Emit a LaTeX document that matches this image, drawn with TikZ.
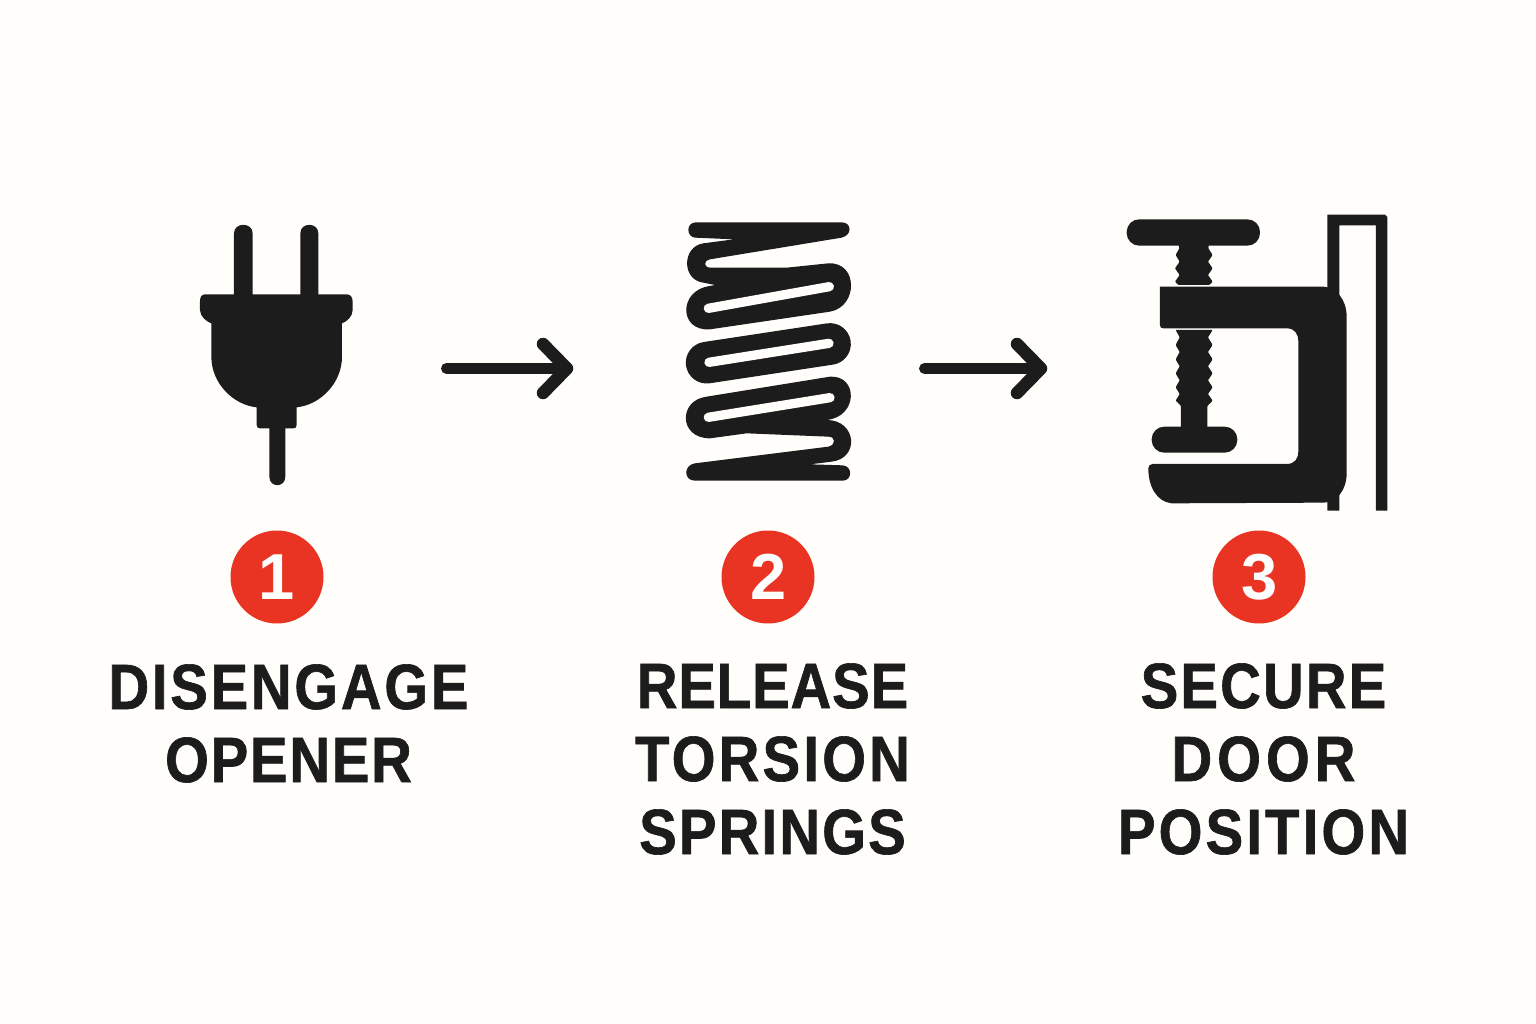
\documentclass[tikz,border=0pt]{standalone}
\usepackage{fontspec}
\setmainfont{Liberation Sans}
\newfontfamily\lblfont{Liberation Sans}[BoldFeatures={FakeStretch=0.88,FakeBold=1}]
\newfontfamily\numfont{Liberation Sans}
\newcommand\ltr[2]{{\addfontfeature{LetterSpace=#1}#2}}
\definecolor{pagebg}{HTML}{FFFEFA}
\definecolor{ink}{HTML}{1C1C1C}
\definecolor{badgered}{HTML}{EA3423}
\tikzset{
  zoomA/.style={x=.33333pt,y=-.33333pt},
  stepline/.style={ink,line width=11pt,line cap=round,line join=round},
  stephead/.style={ink,line width=12.5pt,line cap=round,line join=round},
  badge/.style={circle,fill=badgered,minimum size=93pt,inner sep=0pt,text=white,font=\numfont\bfseries\fontsize{65}{65}\selectfont},
  lbl/.style={text=ink,font=\lblfont\bfseries\fontsize{64}{73}\selectfont,align=center,inner sep=0pt,anchor=base},
}
\begin{document}
\begin{tikzpicture}[x=1pt,y=-1pt]
\useasboundingbox (0,0) rectangle (1536,1024);
\fill[pagebg] (0,0) rectangle (1536,1024);
% plug
\begin{scope}[zoomA,shift={(540,630)}]
\fill[ink] (361,70) .. controls (361,36) and (415,36) .. (415,70) -- (415,260) -- (361,260) -- cycle;
\fill[ink] (162,70) .. controls (162,36) and (218,36) .. (218,70) -- (218,260) -- (162,260) -- cycle;
\fill[ink] (75,253) -- (500,253) .. controls (512,253) and (518,262) .. (518,275) -- (518,300)
  .. controls (518,320) and (500,335) .. (486,340) -- (486,440)
  .. controls (486,520) and (420,585) .. (350,592) -- (350,645) .. controls (350,652) and (346,655) .. (340,655)
  -- (316,655) -- (316,800) .. controls (316,834) and (268,834) .. (268,800) -- (268,655)
  -- (240,655) .. controls (234,655) and (230,652) .. (230,645) -- (230,592)
  .. controls (160,585) and (94,520) .. (94,440) -- (94,340)
  .. controls (80,335) and (60,320) .. (60,300) -- (60,275) .. controls (60,262) and (64,253) .. (75,253) -- cycle;
\end{scope}
% spring
\begin{scope}[zoomA,shift={(1980,600)}]
\fill[ink] (108,67) -- (545,67) .. controls (575,67) and (578,105) .. (545,113)
  -- (150,178) .. controls (130,182) and (130,203) .. (152,203) -- (380,203) -- (505,190)
  .. controls (595,185) and (595,320) .. (510,335) -- (150,388)
  .. controls (55,395) and (55,270) .. (150,258) -- (165,255) -- (130,248)
  .. controls (65,240) and (65,140) .. (130,130) -- (222,118) -- (105,113)
  .. controls (78,110) and (78,67) .. (108,67) -- cycle;
\draw[pagebg,line width=9.3pt,line cap=round] (145,325) -- (508,260);
\draw[ink,line width=41.7pt,line cap=round] (140,488) -- (510,432);
\draw[pagebg,line width=9.3pt,line cap=round] (147,487) -- (507,430);
\fill[ink] (510,530) .. controls (595,525) and (595,650) .. (500,660)
  .. controls (590,660) and (600,775) .. (515,785) -- (450,793) -- (548,796)
  .. controls (578,798) and (578,842) .. (548,842) -- (105,842)
  .. controls (70,842) and (70,795) .. (105,790) -- (505,740)
  .. controls (528,735) and (528,710) .. (505,710) -- (260,700) -- (150,715)
  .. controls (55,715) and (55,600) .. (140,590) -- cycle;
\draw[pagebg,line width=9.3pt,line cap=round] (145,652) -- (510,593);
\end{scope}
% clamp
\begin{scope}[zoomA,shift={(3330,600)}]
\fill[ink,rounded corners=12.6pt] (50,58) rectangle (450,137);
\fill[ink,rounded corners=.8pt] (205,130) -- (297,130) -- (295,145) -- (308,165) -- (294,185) -- (308,205) -- (294,225) -- (308,245) -- (298,255) -- (205,255) -- (195,245) -- (209,225) -- (195,205) -- (209,185) -- (197,165) -- (208,145) -- cycle;
\fill[ink,rounded corners=.8pt] (197,390) -- (308,390) -- (294,412) -- (308,435) -- (294,456) -- (308,478) -- (294,499) -- (308,520) -- (294,541) -- (308,562) -- (294,582) -- (308,602) -- (292,618) -- (292,690) -- (213,690) -- (213,618) -- (197,602) -- (209,582) -- (197,562) -- (209,541) -- (197,520) -- (209,499) -- (197,478) -- (209,456) -- (197,435) -- (209,412) -- cycle;
\fill[ink,rounded corners=12.6pt] (125,680) rectangle (382,758);
\fill[ink] (150,260) -- (640,260) .. controls (680,262) and (710,300) .. (710,350) -- (710,820)
  .. controls (710,870) and (680,908) .. (640,908) -- (185,910) .. controls (140,905) and (115,860) .. (115,805)
  .. controls (115,797) and (120,792) .. (128,792) -- (530,792) .. controls (555,792) and (565,775) .. (565,755)
  -- (565,425) .. controls (565,402) and (555,385) .. (530,385) -- (160,385) .. controls (153,385) and (150,382) .. (150,375) -- cycle;
\fill[ink] (652,932) -- (652,44) -- (825,44) -- (832,51) -- (832,932) -- (798,932) -- (798,76) -- (688,76) -- (688,932) -- cycle;
\end{scope}
% arrows
\coordinate (a1s) at (446.5,368.5); \coordinate (a1e) at (567,368.5);
\coordinate (a1u) at (543,344); \coordinate (a1d) at (543,393);
\coordinate (a2s) at (924.5,368.5); \coordinate (a2e) at (1041,368.5);
\coordinate (a2u) at (1017,344); \coordinate (a2d) at (1017,393);
\draw[stepline] (a1s) -- (a1e);
\draw[stephead] (a1u) -- (a1e) -- (a1d);
\draw[stepline] (a2s) -- (a2e);
\draw[stephead] (a2u) -- (a2e) -- (a2d);
% badges
\node[badge] (b1) at (277,577) {1};
\node[badge] (b2) at (768,577) {\hspace{2pt}2};
\node[badge] (b3) at (1259,577) {\hspace{2pt}3};
% labels
\node[lbl] (l1) at (288.5,782) {\ltr{4.3}{DISENGAGE}\\\ltr{2.8}{OPENER}};
\node[lbl] (l2) at (772.5,854) {\ltr{1.4}{RELEASE}\\\ltr{5}{TORSION}\\\ltr{3.4}{SPRINGS}};
\node[lbl] (l3) at (1263.5,854) {\ltr{3.4}{SECURE}\\\ltr{7.8}{DOOR}\\\ltr{4.9}{POSITION}};
\end{tikzpicture}
\end{document}
